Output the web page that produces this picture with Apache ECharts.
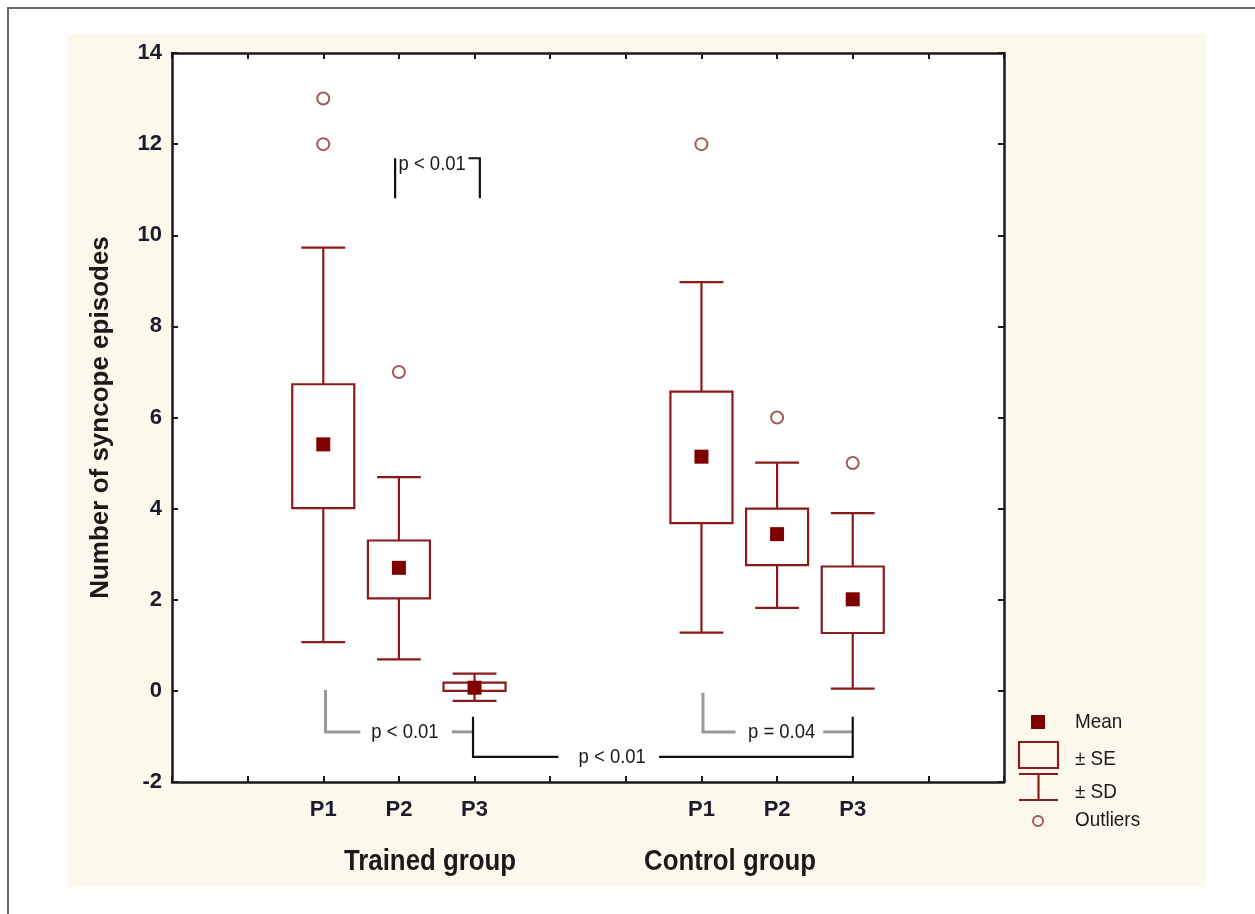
<!DOCTYPE html>
<html>
<head>
<meta charset="utf-8">
<script src="https://cdn.jsdelivr.net/npm/echarts@6/dist/echarts.min.js"></script>
<style>
  html, body { margin: 0; padding: 0; background: #fff; }
  #chart { width: 1255px; height: 914px; }
</style>
</head>
<body>
<div id="chart"></div>
<script>
// tick labels on the x axis, one per integer slot 0..11
const tickLabels = ['', '', 'P1', 'P2', 'P3', '', '', 'P1', 'P2', 'P3', '', '']
const groupNames = ['Trained group', 'Control group']

// x slot of each box: trained P1-P3, control P1-P3
const positions = [2, 3, 4, 7, 8, 9]
const means = [5.41, 2.7, 0.07, 5.14, 3.44, 2.01]
const seLow = [4.01, 2.03, 0.0, 3.68, 2.76, 1.27]
const seHigh = [6.73, 3.3, 0.18, 6.57, 4.0, 2.73]
const sdLow = [1.07, 0.69, -0.22, 1.28, 1.82, 0.05]
const sdHigh = [9.73, 4.69, 0.38, 8.97, 5.01, 3.9]
const outliers = [[2, 13], [2, 12], [3, 7], [7, 12], [8, 6], [9, 5]]

// significance brackets (data coords)
const bracketLines = [
  [[2.95, 10.81], [2.95, 11.69]],
  [[3.92, 11.69], [4.07, 11.69], [4.07, 10.81]],
  [[2.03, 0.02], [2.03, -0.9], [2.49, -0.9]],
  [[3.7, -0.9], [3.98, -0.9]],
  [[7.02, -0.04], [7.02, -0.9], [7.45, -0.9]],
  [[8.61, -0.9], [9.0, -0.9]],
  [[3.98, -0.57], [3.98, -1.45], [5.11, -1.45]],
  [[6.44, -1.45], [9.0, -1.45], [9.0, -0.57]],
]
const bracketColors = ['#111', '#111', '#999', '#999', '#999', '#999', '#111', '#111']
const bracketTexts = ['p < 0.01', 'p < 0.01', 'p = 0.04', 'p < 0.01']
const bracketTextAt = [[3.44, 11.56], [3.08, -0.9], [8.06, -0.9], [5.82, -1.45]]

const RED = '#8b1a1a'
const SANS = "'Liberation Sans', Arial, sans-serif"
const INK = '#1a1a1a'

const chart = echarts.init(document.getElementById('chart'))

const boxData = positions.map((x, i) => [x, sdLow[i], seLow[i], seHigh[i], sdHigh[i]])

function renderBox(params, api) {
  const x = api.value(0)
  const pLo = api.coord([x, api.value(1)])
  const pSeLo = api.coord([x, api.value(2)])
  const pSeHi = api.coord([x, api.value(3)])
  const pHi = api.coord([x, api.value(4)])
  const boxW = api.size([0.82, 0])[0]
  const capW = api.size([0.58, 0])[0]
  const st = { stroke: RED, lineWidth: 2.2, fill: 'none' }
  return {
    type: 'group',
    children: [
      { type: 'line', shape: { x1: pHi[0], y1: pHi[1], x2: pSeHi[0], y2: pSeHi[1] }, style: st },
      { type: 'line', shape: { x1: pSeLo[0], y1: pSeLo[1], x2: pLo[0], y2: pLo[1] }, style: st },
      { type: 'line', shape: { x1: pHi[0] - capW / 2, y1: pHi[1], x2: pHi[0] + capW / 2, y2: pHi[1] }, style: st },
      { type: 'line', shape: { x1: pLo[0] - capW / 2, y1: pLo[1], x2: pLo[0] + capW / 2, y2: pLo[1] }, style: st },
      {
        type: 'rect',
        shape: { x: pSeHi[0] - boxW / 2, y: pSeHi[1], width: boxW, height: pSeLo[1] - pSeHi[1] },
        style: { stroke: RED, lineWidth: 2.2, fill: '#fff' },
      },
    ],
  }
}

function renderBracket(params, api) {
  const i = params.dataIndex
  const pts = bracketLines[i].map((p) => api.coord(p))
  const gray = bracketColors[i] !== '#111'
  return {
    type: 'polyline',
    shape: { points: pts },
    style: { stroke: bracketColors[i], lineWidth: gray ? 3 : 2.2, fill: 'none' },
  }
}

function renderBracketText(params, api) {
  const i = params.dataIndex
  const p = api.coord(bracketTextAt[i])
  return {
    type: 'text',
    x: p[0],
    y: p[1],
    scaleX: 0.88,
    style: {
      text: bracketTexts[i],
      fill: INK,
      font: '21px ' + SANS,
      align: 'center',
      verticalAlign: 'middle',
    },
  }
}

function frameAxis(pos) {
  return {
    type: 'value',
    position: pos,
    axisLine: { onZero: false, lineStyle: { color: INK, width: 2.5 } },
    axisTick: { inside: true, length: 6, lineStyle: { color: INK, width: 2 } },
    splitLine: { show: false },
    axisLabel: { show: false },
  }
}

const legendX = 1019
const legendText = (y, t) => ({
  type: 'text', x: 1075, y: y, scaleX: 0.9,
  style: { text: t, font: '21px ' + SANS, fill: INK, verticalAlign: 'middle' },
})
const groupText = (x, t) => ({
  type: 'text', x: x, y: 862, scaleX: 0.89, originX: 0,
  style: { text: t, font: 'bold 29px ' + SANS, fill: INK, align: 'center', verticalAlign: 'middle' },
})

chart.setOption({
  backgroundColor: '#fff',
  animation: false,
  grid: {
    left: 172,
    right: 251,
    top: 53,
    bottom: 132,
    show: true,
    backgroundColor: '#fff',
    borderWidth: 0,
  },
  xAxis: [
    Object.assign(frameAxis('bottom'), {
      min: 0,
      max: 11,
      interval: 1,
      axisLabel: {
        margin: 17,
        color: '#1b1b2e',
        fontWeight: 'bold',
        fontSize: 22,
        fontFamily: SANS,
        formatter: (v) => tickLabels[v] || '',
      },
    }),
    Object.assign(frameAxis('top'), { min: 0, max: 11, interval: 1 }),
  ],
  yAxis: [
    Object.assign(frameAxis('left'), {
      min: -2,
      max: 14,
      interval: 2,
      name: 'Number of syncope episodes',
      nameLocation: 'middle',
      nameGap: 58,
      nameTextStyle: { color: INK, fontWeight: 'bold', fontSize: 26, fontFamily: SANS },
      axisLabel: { margin: 10, color: '#1b1b2e', fontWeight: 'bold', fontSize: 22, fontFamily: SANS },
    }),
    Object.assign(frameAxis('right'), { min: -2, max: 14, interval: 2 }),
  ],
  graphic: [
    { type: 'rect', z: -10, shape: { x: 8, y: 8, width: 1400, height: 1200 }, style: { fill: '#fff', stroke: '#666', lineWidth: 2 } },
    { type: 'rect', z: -9, shape: { x: 68, y: 34, width: 1138, height: 853 }, style: { fill: '#fdf8ec' } },
    groupText(430, groupNames[0]),
    groupText(730, groupNames[1]),
    // legend
    { type: 'rect', shape: { x: 1031, y: 715, width: 14, height: 14 }, style: { fill: '#7f0000' } },
    { type: 'rect', shape: { x: legendX, y: 742, width: 39, height: 26 }, style: { fill: 'none', stroke: RED, lineWidth: 2.2 } },
    { type: 'line', shape: { x1: legendX, y1: 774, x2: legendX + 39, y2: 774 }, style: { stroke: RED, lineWidth: 2.2 } },
    { type: 'line', shape: { x1: legendX + 19.5, y1: 774, x2: legendX + 19.5, y2: 800 }, style: { stroke: RED, lineWidth: 2.2 } },
    { type: 'line', shape: { x1: legendX, y1: 800, x2: legendX + 39, y2: 800 }, style: { stroke: RED, lineWidth: 2.2 } },
    { type: 'circle', shape: { cx: 1038, cy: 821, r: 5 }, style: { fill: 'none', stroke: '#a05a5a', lineWidth: 2 } },
    legendText(722, 'Mean'),
    legendText(759, '\u00b1 SE'),
    legendText(792, '\u00b1 SD'),
    legendText(820, 'Outliers'),
  ],
  series: [
    {
      type: 'custom',
      name: 'brackets',
      renderItem: renderBracket,
      data: bracketLines.map((l, i) => [i]),
      silent: true,
      z: 1,
    },
    {
      type: 'custom',
      name: 'bracketText',
      renderItem: renderBracketText,
      data: bracketTexts.map((t, i) => [i]),
      silent: true,
      z: 2,
    },
    {
      type: 'custom',
      name: 'SE / SD',
      renderItem: renderBox,
      encode: { x: 0, y: [1, 2, 3, 4] },
      data: boxData,
      z: 3,
    },
    {
      type: 'scatter',
      name: 'Mean',
      symbol: 'rect',
      symbolSize: 14,
      itemStyle: { color: '#7f0000', opacity: 1 },
      data: positions.map((x, i) => [x, means[i]]),
      z: 4,
    },
    {
      type: 'scatter',
      name: 'Outliers',
      symbol: 'circle',
      symbolSize: 12,
      itemStyle: { color: 'rgba(0,0,0,0)', borderColor: '#a05a5a', borderWidth: 2, opacity: 1 },
      data: outliers,
      z: 4,
    },
  ],
})
</script>
</body>
</html>
